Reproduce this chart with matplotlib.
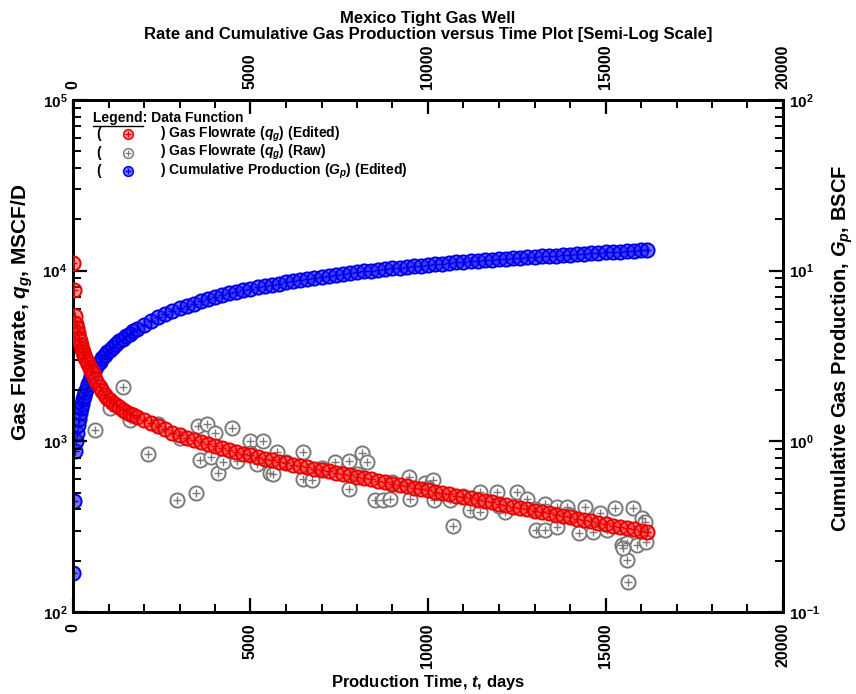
import matplotlib
matplotlib.use("Agg")
import matplotlib.pyplot as plt
from matplotlib.ticker import FixedLocator, FixedFormatter, MultipleLocator, NullFormatter
from matplotlib.lines import Line2D
import numpy as np

# ---------------- data ----------------
# Edited gas flowrate q_g (MSCF/D)
t_edit = [0, 15, 45, 80, 110, 140, 170, 200, 230, 260, 290, 320, 350, 390, 430, 470,
          520, 570, 630, 690, 750, 820, 890, 960, 1040, 1120, 1200, 1300, 1400, 1500,
          1600, 1700, 1800, 2000, 2200, 2400, 2600, 2800, 3000, 3200, 3400, 3600, 3800,
          4000, 4200, 4400, 4600, 4800, 5000, 5200, 5400, 5600, 5800, 6000, 6200, 6400,
          6600, 6800, 7000, 7200, 7400, 7600, 7800, 8000, 8200, 8400, 8600, 8800, 9000,
          9200, 9400, 9600, 9800, 10000, 10200, 10400, 10600, 10800, 11000, 11200, 11400,
          11600, 11800, 12000, 12200, 12400, 12600, 12800, 13000, 13200, 13400, 13600,
          13800, 14000, 14200, 14400, 14600, 14800, 15000, 15200, 15400, 15600, 15800,
          16000, 16170]
q_edit = [11100, 7700, 5400, 4900, 4600, 4300, 4050, 3850, 3650, 3480, 3330, 3200, 3080,
          2950, 2820, 2700, 2600, 2500, 2330, 2200, 2080, 1970, 1880, 1800, 1740, 1680,
          1630, 1580, 1530, 1490, 1450, 1420, 1390, 1330, 1276, 1225, 1175, 1120, 1084,
          1050, 1018, 986, 959, 935, 912, 889, 867, 847, 828, 809, 791, 773, 759, 745,
          731, 718, 705, 692, 679, 668, 656, 644, 632, 621, 610, 598, 587, 577, 566, 556,
          546, 536, 526, 516, 507, 498, 490, 481, 472, 463, 455, 447, 439, 431, 423, 415,
          407, 400, 393, 386, 379, 372, 366, 359, 352, 346, 340, 334, 327, 321, 316, 310,
          305, 299, 294]

# Cumulative gas production G_p (BSCF)
g_cum = [0.17, 0.45, 0.88, 1.00, 1.12, 1.24, 1.35, 1.46, 1.56, 1.66, 1.76, 1.85, 1.94,
         2.06, 2.17, 2.28, 2.41, 2.53, 2.67, 2.80, 2.93, 3.07, 3.20, 3.32, 3.45, 3.58,
         3.70, 3.85, 3.99, 4.13, 4.27, 4.41, 4.55, 4.82, 5.08, 5.32, 5.56, 5.79, 6.01,
         6.22, 6.42, 6.62, 6.81, 7.00, 7.18, 7.36, 7.53, 7.70, 7.86, 8.02, 8.15, 8.28,
         8.41, 8.55, 8.69, 8.83, 8.95, 9.08, 9.20, 9.33, 9.46, 9.57, 9.68, 9.79, 9.91,
         10.02, 10.12, 10.21, 10.30, 10.40, 10.50, 10.59, 10.69, 10.79, 10.89, 10.96,
         11.07, 11.17, 11.25, 11.32, 11.40, 11.48, 11.56, 11.64, 11.72, 11.80, 11.89,
         11.97, 12.05, 12.13, 12.22, 12.27, 12.36, 12.42, 12.50, 12.56, 12.65, 12.71,
         12.79, 12.85, 12.94, 13.00, 13.06, 13.15, 13.21]

# Raw gas flowrate q_g (MSCF/D)
t_raw = [620, 1042, 1408, 1606, 2113, 3521, 3775, 4000, 4479, 3577, 3887, 4085, 4225,
         4620, 4986, 5352, 5183, 5549, 2930, 3465, 5746, 6479, 5634, 6479, 6732, 7380,
         7775, 8141, 8282, 7775, 8507, 8732, 8930, 9465, 9493, 9915, 10141, 10169, 10704,
         10620, 11465, 11944, 12507, 11183, 11465, 12169, 12789, 13296, 13634, 13915,
         14423, 14845, 15268, 15775, 16028, 16113, 13042, 13296, 13634, 14254, 14648,
         15042, 15465, 15606, 15887, 16141, 15606, 15634, 15493,
         2400, 3000, 5000, 6000, 7000, 8000, 9000, 10000, 11000, 12000, 13000, 14000, 15000]
q_raw = [1165, 1567, 2080, 1333, 843, 1229, 1263, 1118, 1196, 777, 809, 652, 756, 767,
         1004, 1004, 736, 652, 453, 498, 866, 866, 643, 601, 593, 756, 767, 854, 756, 526,
         453, 453, 459, 618, 459, 570, 593, 453, 319, 453, 505, 505, 505, 396, 385, 385,
         459, 429, 412, 412, 412, 380, 407, 407, 355, 337, 302, 302, 315, 290, 294, 302,
         247, 254, 247, 257, 202, 150, 237,
         1260, 1050, 850, 760, 700, 640, 580, 530, 480, 420, 400, 370, 330]

x_ticks = [0, 5000, 10000, 15000, 20000]
x_ticklabels = ["0", "5000", "10000", "15000", "20000"]
yl_ticks = [1e2, 1e3, 1e4, 1e5]
yl_ticklabels = ["$10^{2}$", "$10^{3}$", "$10^{4}$", "$10^{5}$"]
yr_ticks = [0.1, 1, 10, 100]
yr_ticklabels = ["$10^{-1}$", "$10^{0}$", "$10^{1}$", "$10^{2}$"]

# ---------------- style ----------------
plt.rcParams['font.family'] = ['Liberation Sans', 'DejaVu Sans']
plt.rcParams['font.weight'] = 'bold'
plt.rcParams['mathtext.fontset'] = 'custom'
plt.rcParams['mathtext.rm'] = 'Liberation Sans:bold'
plt.rcParams['mathtext.bf'] = 'Liberation Sans:bold'
plt.rcParams['mathtext.it'] = 'Liberation Sans:italic:bold'

RED = '#e80000'
BLUE = '#0000e8'
GRAY = '#7a7a7a'
RED_FACE = (1, 0.15, 0.15, 0.5)
BLUE_FACE = (0.1, 0.1, 1, 0.6)

fig = plt.figure(figsize=(8.56, 6.94), dpi=100)
W, H = 856, 694
ax = fig.add_axes([73 / W, 1 - 612 / H, 710 / W, 512 / H])
ax2 = ax.twinx()

ms = 10.2
pms = 5.4


def plot_marks(a, x, y, col, face, z):
    a.plot(x, y, ls='none', marker='o', ms=ms, mfc=face, mec=col, mew=1.4, zorder=z)
    a.plot(x, y, ls='none', marker='+', ms=pms, mec=col, mew=1.0, zorder=z + 0.1)


plot_marks(ax, t_raw, q_raw, GRAY, 'white', 2)
plot_marks(ax, t_edit, q_edit, RED, RED_FACE, 3)
plot_marks(ax2, t_edit, g_cum, BLUE, BLUE_FACE, 2)

ax.set_zorder(ax2.get_zorder() + 1)
ax.patch.set_visible(False)

ax.set_xlim(0, 20000)
ax.set_yscale('log')
ax.set_ylim(1e2, 1e5)
ax2.set_yscale('log')
ax2.set_ylim(0.1, 100)

ax.xaxis.set_major_locator(FixedLocator(x_ticks))
ax.xaxis.set_major_formatter(FixedFormatter(x_ticklabels))
ax.xaxis.set_minor_locator(MultipleLocator(1000))
ax.tick_params(axis='x', which='both', top=True, labeltop=True, direction='in')
ax.tick_params(axis='x', which='major', length=10, width=1.6, labelsize=11.5,
               labelrotation=90, pad=8)
ax.tick_params(axis='x', which='minor', length=6, width=1.4)

ax.yaxis.set_major_locator(FixedLocator(yl_ticks))
ax.yaxis.set_major_formatter(FixedFormatter(yl_ticklabels))
ax.yaxis.set_minor_formatter(NullFormatter())
ax.tick_params(axis='y', which='both', direction='in', left=True, right=False)
ax.tick_params(axis='y', which='major', length=10, width=1.6, labelsize=11, pad=4)
ax.tick_params(axis='y', which='minor', length=6, width=1.4)

ax2.yaxis.set_major_locator(FixedLocator(yr_ticks))
ax2.yaxis.set_major_formatter(FixedFormatter(yr_ticklabels))
ax2.yaxis.set_minor_formatter(NullFormatter())
ax2.tick_params(axis='y', which='both', direction='in')
ax2.tick_params(axis='y', which='major', length=10, width=1.6, labelsize=11, pad=4)
ax2.tick_params(axis='y', which='minor', length=6, width=1.4)

for a in (ax, ax2):
    for s in a.spines.values():
        s.set_linewidth(2.0)

ax.set_ylabel('Gas Flowrate, $q_g$, MSCF/D', fontsize=15, fontweight='bold')
ax2.set_ylabel('Cumulative Gas Production, $G_p$, BSCF', fontsize=14.5,
               fontweight='bold')
ax.yaxis.set_label_coords(-0.054, 0.585)
ax2.yaxis.set_label_coords(1.066, 0.515)

fig.text(428 / W, 1 - 18 / H, 'Mexico Tight Gas Well', ha='center', va='center',
         fontsize=12, fontweight='bold')
fig.text(428 / W, 1 - 35 / H,
         'Rate and Cumulative Gas Production versus Time Plot [Semi-Log Scale]',
         ha='center', va='center', fontsize=12, fontweight='bold')
fig.text(428 / W, 1 - 682 / H, 'Production Time, $t$, days', ha='center', va='center',
         fontsize=12, fontweight='bold')

# ---------------- legend block ----------------
def fx(px):
    return px / W


def fy(py):
    return 1 - py / H


leg_fs = 10
fig.text(fx(93), fy(118), 'Legend: Data Function', ha='left', va='center',
         fontsize=leg_fs, fontweight='bold')
rows = [('Gas Flowrate ($q_g$) (Edited)', RED, RED_FACE),
        ('Gas Flowrate ($q_g$) (Raw)', GRAY, 'white'),
        ('Cumulative Production ($G_p$) (Edited)', BLUE, BLUE_FACE)]
for i, (label, col, face) in enumerate(rows):
    yy = 134 + i * 18.5
    fig.text(fx(96), fy(yy), '(', ha='left', va='center', fontsize=leg_fs, fontweight='bold')
    fig.text(fx(160), fy(yy), ') ' + label, ha='left', va='center', fontsize=leg_fs,
             fontweight='bold')
    fig.add_artist(Line2D([fx(128)], [fy(yy)], ls='none', marker='o', ms=7, mfc=face,
                          mec=col, mew=1.1, transform=fig.transFigure))
    fig.add_artist(Line2D([fx(128)], [fy(yy)], ls='none', marker='+', ms=3.8, mec=col,
                          mew=0.9, transform=fig.transFigure))

# underline "Legend"
fig.canvas.draw()
tmp = fig.text(fx(93), fy(118), 'Legend', ha='left', va='center', fontsize=leg_fs,
               fontweight='bold')
bb = tmp.get_window_extent(renderer=fig.canvas.get_renderer())
tmp.remove()
uy = (bb.y0 - 1) / fig.bbox.height
fig.add_artist(Line2D([bb.x0 / fig.bbox.width, bb.x1 / fig.bbox.width], [uy, uy],
                      color='black', lw=1.0, transform=fig.transFigure))

fig.savefig('out.png', dpi=100)
